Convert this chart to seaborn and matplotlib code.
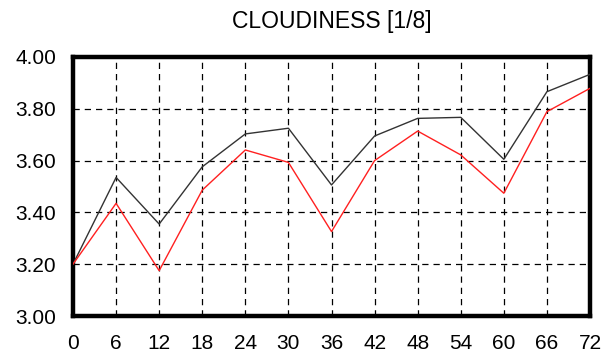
import matplotlib
matplotlib.use("Agg")
import matplotlib.pyplot as plt
import seaborn as sns
import pandas as pd

lead_hours = [0, 6, 12, 18, 24, 30, 36, 42, 48, 54, 60, 66, 72]
series_black = [3.20, 3.535, 3.355, 3.576, 3.703, 3.725, 3.506, 3.695, 3.763, 3.767, 3.605, 3.866, 3.933]
series_red = [3.20, 3.435, 3.175, 3.486, 3.641, 3.593, 3.326, 3.600, 3.714, 3.622, 3.474, 3.789, 3.879]
y_ticks = [3.00, 3.20, 3.40, 3.60, 3.80, 4.00]
title = "CLOUDINESS [1/8]"

sns.set_style("white")
plt.rcParams['font.family'] = ['Liberation Sans', 'DejaVu Sans']

df = pd.DataFrame({
    "hour": lead_hours * 2,
    "value": series_black + series_red,
    "series": ["black"] * len(lead_hours) + ["red"] * len(lead_hours),
})

fig = plt.figure(figsize=(6.04, 3.53), dpi=100)
ax = fig.add_axes([73/604, 37/353, (590-73)/604, (316-57)/353])

sns.lineplot(data=df, x="hour", y="value", hue="series",
             palette={"black": "#333333", "red": "#ff2020"},
             linewidth=1.0, legend=False, ax=ax, zorder=3)

ax.set_xlim(0, 72)
ax.set_ylim(3.0, 4.0)
ax.set_xticks(lead_hours)
ax.set_xticklabels([str(h) for h in lead_hours])
ax.set_yticks(y_ticks)
ax.set_yticklabels([f"{v:.2f}" for v in y_ticks])
ax.set_xlabel("")
ax.set_ylabel("")

ax.grid(True, color="black", linestyle=(0, (5, 4)), linewidth=0.9)
for s in ax.spines.values():
    s.set_visible(True)
    s.set_color("black")
    s.set_linewidth(3.2)

ax.tick_params(axis="both", direction="in", length=5, width=3, color="black",
               labelsize=15, labelcolor="black")
ax.tick_params(axis="x", pad=13)
ax.tick_params(axis="y", pad=12)

ax_center = (73 + 590) / 2 / 604
fig.text(ax_center, 1 - 21.5/353, title, ha="center", va="center", fontsize=16.5, color="black")

fig.savefig("out.png", dpi=100)
